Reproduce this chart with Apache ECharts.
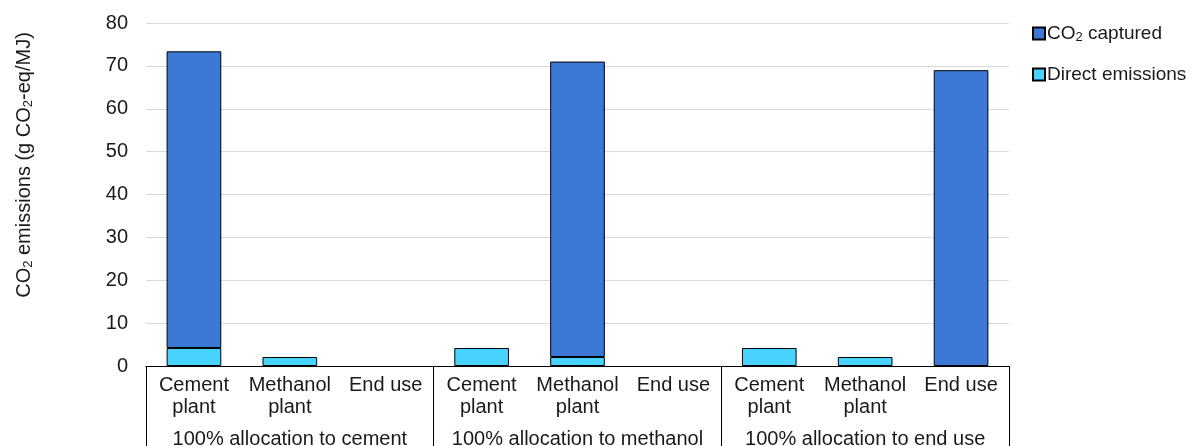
<!DOCTYPE html>
<html>
<head>
<meta charset="utf-8">
<script src="https://cdn.jsdelivr.net/npm/echarts@6/dist/echarts.min.js"></script>
<style>
html,body{margin:0;padding:0;background:#fff;}
#chart{width:1201px;height:446px;}
</style>
</head>
<body>
<div id="chart"></div>
<script>
const categories = ['Cement\nplant', 'Methanol\nplant', 'End use', 'Cement\nplant', 'Methanol\nplant', 'End use', 'Cement\nplant', 'Methanol\nplant', 'End use'];
const groups = ['100% allocation to cement', '100% allocation to methanol', '100% allocation to end use'];
const directEmissions = [4.2, 2.1, 0, 4.2, 2.1, 0, 4.2, 2.1, 0];
const co2Captured = [69.2, 0, 0, 0, 68.9, 0, 0, 0, 69.0];
const yTicks = { min: 0, max: 80, interval: 10 };

const FONT = 'Liberation Sans, Arial, sans-serif';
const TXT = '#1a1a1a';
const toBar = v => (v === 0 ? '-' : v);

const chart = echarts.init(document.getElementById('chart'), null, { renderer: 'canvas' });

const option = {
  animation: false,
  textStyle: { fontFamily: FONT },
  grid: { left: 146, right: 192, top: 23, bottom: 80, containLabel: false, outerBoundsMode: 'none' },
  legend: {
    orient: 'vertical',
    left: 1032,
    top: 24,
    padding: 0,
    itemWidth: 12,
    itemHeight: 12,
    itemGap: 21,
    icon: 'rect',
    data: ['CO2 captured', 'Direct emissions'],
    textStyle: {
      fontFamily: FONT, fontSize: 19, color: TXT, padding: [0, 0, 0, -3],
      rich: {
        a: { fontFamily: FONT, fontSize: 19, color: TXT, lineHeight: 21 },
        s: { fontFamily: FONT, fontSize: 13, color: TXT, lineHeight: 9, verticalAlign: 'bottom' }
      }
    },
    formatter: function (name) {
      if (name === 'CO2 captured') return '{a|CO}{s|2}{a| captured}';
      return '{a|' + name + '}';
    }
  },
  xAxis: [
    {
      type: 'category',
      data: categories,
      axisLine: { show: true, lineStyle: { color: '#000', width: 1 } },
      axisTick: { show: false },
      axisLabel: { interval: 0, fontFamily: FONT, fontSize: 20, color: TXT, lineHeight: 22, margin: 8 }
    },
    {
      type: 'category',
      data: groups,
      position: 'bottom',
      axisLine: { show: true, lineStyle: { color: '#000', width: 1 } },
      axisTick: { show: true, interval: 0, length: 90, lineStyle: { color: '#000', width: 1 } },
      axisLabel: { interval: 0, fontFamily: FONT, fontSize: 20, color: TXT, lineHeight: 22, margin: 62 }
    }
  ],
  yAxis: {
    type: 'value',
    min: yTicks.min,
    max: yTicks.max,
    interval: yTicks.interval,
    axisLine: { show: false },
    axisTick: { show: false },
    splitLine: { lineStyle: { color: '#d9d9d9', width: 1 } },
    axisLabel: { fontFamily: FONT, fontSize: 20, color: TXT, margin: 18 }
  },
  graphic: [
    {
      type: 'text',
      x: 24,
      y: 165,
      rotation: Math.PI / 2,
      style: {
        text: '{a|CO}{s|2}{a| emissions (g CO}{s|2}{a|-eq/MJ)}',
        align: 'center',
        verticalAlign: 'middle',
        rich: {
          a: { fontFamily: FONT, fontSize: 20, fill: TXT, lineHeight: 22 },
          s: { fontFamily: FONT, fontSize: 13, fill: TXT, lineHeight: 10, verticalAlign: 'bottom' }
        }
      }
    }
  ],
  series: [
    {
      name: 'Direct emissions',
      type: 'bar',
      stack: 'total',
      xAxisIndex: 0,
      barWidth: '57%',
      data: directEmissions.map(toBar),
      itemStyle: { color: '#48D3FF', borderColor: '#000', borderWidth: 1 }
    },
    {
      name: 'CO2 captured',
      type: 'bar',
      stack: 'total',
      xAxisIndex: 0,
      barWidth: '57%',
      data: co2Captured.map(toBar),
      itemStyle: { color: '#3C78D6', borderColor: '#000', borderWidth: 1 }
    }
  ]
};

chart.setOption(option);
</script>
</body>
</html>
